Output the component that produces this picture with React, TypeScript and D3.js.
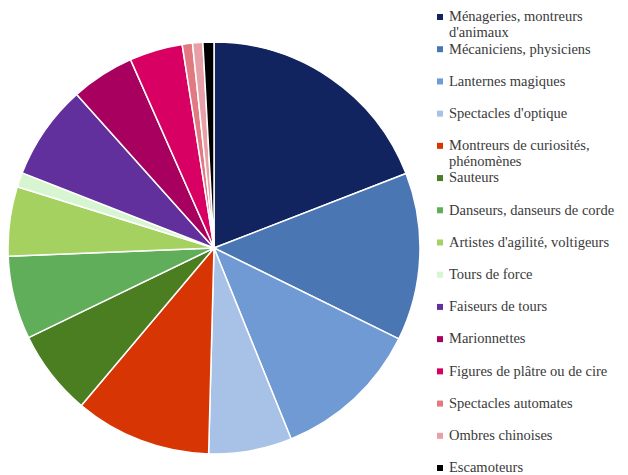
import React from "react";
import * as d3 from "d3";

const categories: string[][] = [
  ["Ménageries, montreurs", "d'animaux"],
  ["Mécaniciens, physiciens"],
  ["Lanternes magiques"],
  ["Spectacles d'optique"],
  ["Montreurs de curiosités,", "phénomènes"],
  ["Sauteurs"],
  ["Danseurs, danseurs de corde"],
  ["Artistes d'agilité, voltigeurs"],
  ["Tours de force"],
  ["Faiseurs de tours"],
  ["Marionnettes"],
  ["Figures de plâtre ou de cire"],
  ["Spectacles automates"],
  ["Ombres chinoises"],
  ["Escamoteurs"],
];

const values: number[] = [68.8, 47.4, 41.8, 23.5, 38.6, 24.1, 23.5, 19.6, 4.1, 26.8, 17.9, 15.0, 2.9, 2.9, 3.1];

const colors: string[] = [
  "#12245f", "#4a76b4", "#6f9ad3", "#a7c2e6", "#d73503", "#4a7e21", "#60ad5a",
  "#a5d160", "#d6f5d0", "#62309c", "#a8005f", "#d80062", "#e07a80", "#e8a0a8", "#000000",
];

export default function App() {
  const W = 628, H = 475;
  const cx = 214, cy = 248, r = 206;
  const pie = d3.pie<number>().sort(null).value((d) => d);
  const arcs = pie(values);
  const arc = d3.arc<d3.PieArcDatum<number>>().innerRadius(0).outerRadius(r);
  const legendY = d3.scaleLinear().domain([0, categories.length - 1]).range([17, 468]);
  return (
    <svg width={W} height={H} style={{ position: "absolute", left: 0, top: 0, background: "#fff" }}>
      <g transform={`translate(${cx},${cy})`}>
        {arcs.map((a, i) => (
          <path key={i} d={arc(a) || ""} fill={colors[i]} stroke="#fff" strokeWidth={1.5} strokeLinejoin="round" />
        ))}
      </g>
      <g fontFamily="'Liberation Serif', serif" fontSize={14.5} fill="#3a3a3a">
        {categories.map((lines, i) => {
          const y = legendY(i);
          return (
            <g key={i}>
              <rect x={437} y={y - 3} width={6} height={6} fill={colors[i]} />
              {lines.map((t, j) => (
                <text key={j} x={449} y={y + j * 16} dy="0.3em">{t}</text>
              ))}
            </g>
          );
        })}
      </g>
    </svg>
  );
}
